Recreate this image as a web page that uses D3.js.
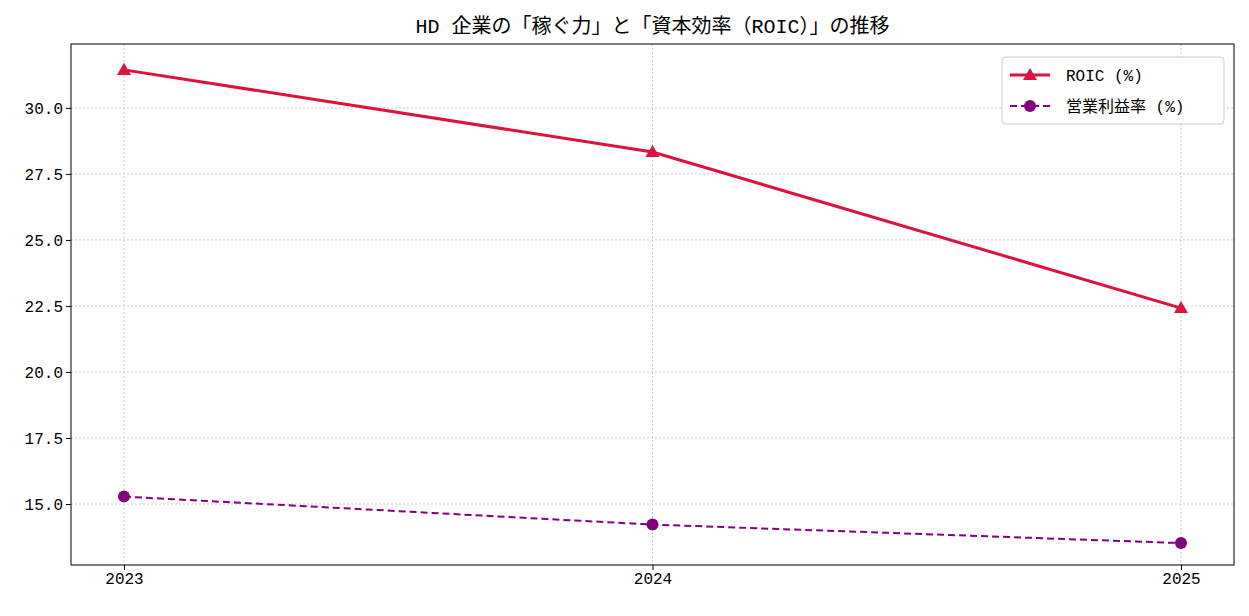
<!DOCTYPE html>
<html><head><meta charset="utf-8">
<script src="https://cdn.jsdelivr.net/npm/d3@7"></script>
<style>body{margin:0;background:#fff}text{font-family:"Liberation Mono","Noto Sans CJK JP",monospace}</style>
</head><body><svg id="c" width="1249" height="616"></svg>
<script>
const years = ["2023","2024","2025"];
const roic = [31.44, 28.33, 22.42];
const opMargin = [15.28, 14.22, 13.52];
const yTicks = [15.0, 17.5, 20.0, 22.5, 25.0, 27.5, 30.0];
const title = "HD 企業の「稼ぐ力」と「資本効率（ROIC）」の推移";
const legendLabels = ["ROIC (%)", "営業利益率 (%)"];

const svg = d3.select("#c");
const L=71,R=1234,T=44,B=565;
const x = d3.scalePoint().domain(years).range([124,1181]);
const y = d3.scaleLinear().domain([12.69,32.42]).range([B,T]);

const g = svg.append("g");
g.selectAll(".gy").data(yTicks).join("line").attr("x1",L).attr("x2",R)
 .attr("y1",d=>y(d)).attr("y2",d=>y(d)).attr("stroke","#ccc").attr("stroke-dasharray","2,2");
g.selectAll(".gx").data(years).join("line").attr("y1",T).attr("y2",B)
 .attr("x1",d=>x(d)).attr("x2",d=>x(d)).attr("stroke","#ccc").attr("stroke-dasharray","2,2");

const ya = svg.append("g").attr("transform",`translate(${L},0)`).call(d3.axisLeft(y).tickValues(yTicks).tickFormat(d3.format(".1f")).tickSize(5).tickSizeOuter(0));
const xa = svg.append("g").attr("transform",`translate(0,${B})`).call(d3.axisBottom(x).tickSize(5).tickSizeOuter(0));
[ya,xa].forEach(a=>{a.select(".domain").remove();a.selectAll("text").attr("font-size",16).attr("fill","#000");a.selectAll("line").attr("stroke","#000");});
svg.append("rect").attr("x",L).attr("y",T).attr("width",R-L).attr("height",B-T).attr("fill","none").attr("stroke","#000");

const line = d3.line().x((d,i)=>x(years[i])).y(d=>y(d));
svg.append("path").datum(roic).attr("d",line).attr("fill","none").attr("stroke","#dc143c").attr("stroke-width",3);
svg.append("path").datum(opMargin).attr("d",line).attr("fill","none").attr("stroke","#800080").attr("stroke-width",2).attr("stroke-dasharray","7,4");
const tri = d3.symbol().type(d3.symbolTriangle).size(85);
svg.selectAll(".t").data(roic).join("path").attr("d",tri).attr("fill","#dc143c")
 .attr("transform",(d,i)=>`translate(${x(years[i])},${y(d)+1})`);
svg.selectAll(".c").data(opMargin).join("circle").attr("cx",(d,i)=>x(years[i])).attr("cy",d=>y(d)).attr("r",6).attr("fill","#800080");

svg.append("text").attr("x",(L+R)/2).attr("y",33).attr("text-anchor","middle").attr("font-size",20).text(title);

const lg = svg.append("g");
lg.append("rect").attr("x",1002).attr("y",57).attr("width",222).attr("height",67).attr("rx",4).attr("fill","#fff").attr("stroke","#ccc");
lg.append("line").attr("x1",1010).attr("x2",1050).attr("y1",75).attr("y2",75).attr("stroke","#dc143c").attr("stroke-width",3);
lg.append("path").attr("d",tri).attr("fill","#dc143c").attr("transform","translate(1030,76)");
lg.append("line").attr("x1",1010).attr("x2",1050).attr("y1",106).attr("y2",106).attr("stroke","#800080").attr("stroke-width",2).attr("stroke-dasharray","7,4");
lg.append("circle").attr("cx",1030).attr("cy",106).attr("r",6).attr("fill","#800080");
lg.selectAll("text").data(legendLabels).join("text").attr("x",1066).attr("y",(d,i)=>81+i*31).attr("font-size",16).text(d=>d);
</script></body></html>
